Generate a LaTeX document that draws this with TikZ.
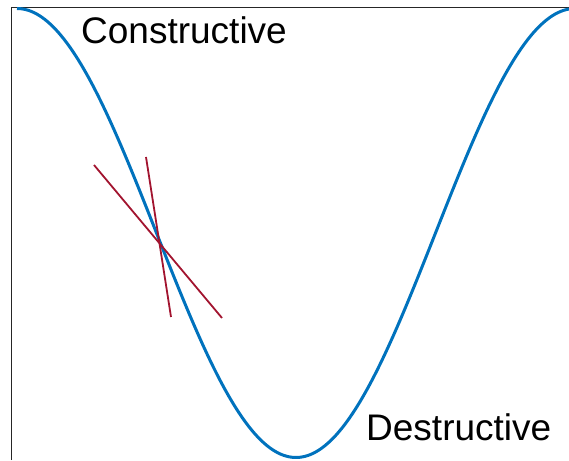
\documentclass[tikz,border=0pt]{standalone}
\usepackage{fontspec}
\setmainfont{Liberation Sans}
\usepackage{tikz}
\definecolor{waveblue}{RGB}{0,114,189}
\definecolor{tanred}{RGB}{162,20,47}

\begin{document}
\begin{tikzpicture}[x=1pt,y=1pt,
    wave/.style={waveblue,line width=3pt},
    tangent/.style={tanred,line width=1.8pt},
    label/.style={inner sep=0pt,anchor=base west,font=\fontsize{37}{44}\selectfont}]
  \useasboundingbox (0,0) rectangle (569,460);
  \draw[black!85,line width=1.2pt] (11.5,0) -- (11.5,452.5) -- (569,452.5);
  \draw[wave] plot[domain=17:569,samples=200] (\x,{227+224.5*cos(0.645161*(\x-17))});
  \coordinate (a1) at (94,295);
  \coordinate (a2) at (222,142);
  \coordinate (b1) at (146,303);
  \coordinate (b2) at (171,143);
  \draw[tangent] (a1) -- (a2);
  \draw[tangent] (b1) -- (b2);
  \node[label] (con) at (81,416) {Constructive};
  \node[label] (des) at (366,20) {Destructive};
\end{tikzpicture}
\end{document}
